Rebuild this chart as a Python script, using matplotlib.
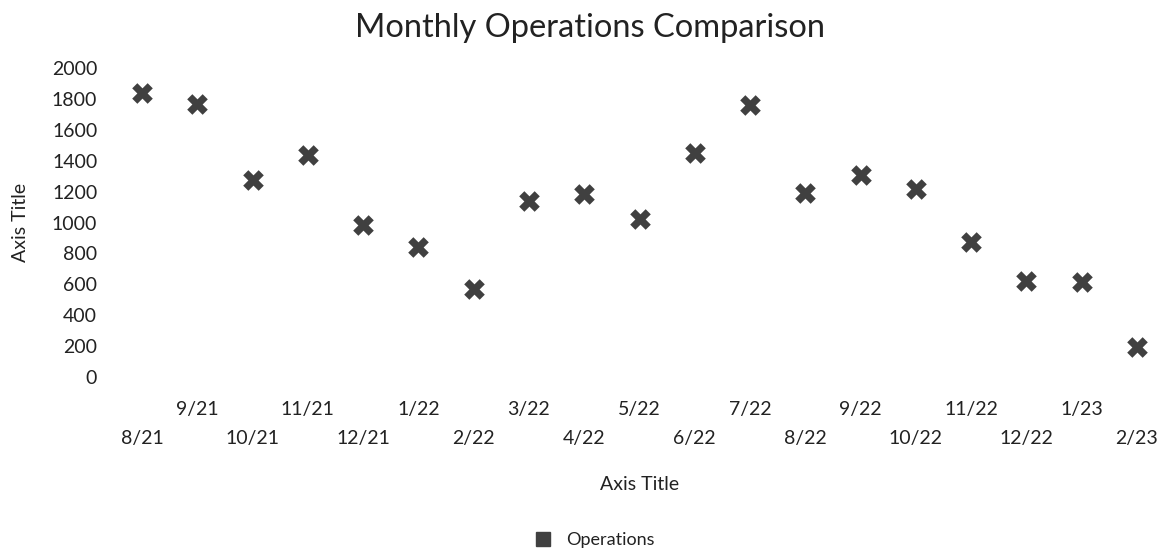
import matplotlib
matplotlib.use("Agg")
import matplotlib.pyplot as plt
from matplotlib.lines import Line2D

plt.rcParams['font.family'] = ['Lato', 'DejaVu Sans']

# data
months = ["8/21", "9/21", "10/21", "11/21", "12/21", "1/22", "2/22", "3/22", "4/22", "5/22",
          "6/22", "7/22", "8/22", "9/22", "10/22", "11/22", "12/22", "1/23", "2/23"]
operations = [1838, 1767, 1275, 1437, 984, 841, 570, 1139, 1184, 1023,
              1450, 1760, 1191, 1307, 1217, 874, 621, 615, 194]

W, H = 1170, 554
fig = plt.figure(figsize=(W / 100, H / 100), dpi=100)

# axes placed in pixels: x from 100 to 1160, y=0 at 377, y=2000 at 68
ax = fig.add_axes([100 / W, (H - 377) / H, 1060 / W, (377 - 68) / H])
step = (1137 - 142) / 18
x = list(range(len(months)))
ax.scatter(x, operations, marker="X", s=220, color="#404040", linewidths=0, clip_on=False, zorder=3)

ax.set_xlim(-(142 - 100) / step, 18 + (1160 - 1137) / step)
ax.set_ylim(0, 2000)
ax.set_yticks(range(0, 2001, 200))
ax.tick_params(axis="y", length=0, pad=2, labelsize=14, labelcolor="#222222")

# staggered month labels: even ones lower (major), odd ones higher (minor)
ax.set_xticks(x[0::2])
ax.set_xticklabels(months[0::2])
ax.set_xticks(x[1::2], minor=True)
ax.set_xticklabels(months[1::2], minor=True)
ax.tick_params(axis="x", which="major", length=0, pad=38, labelsize=14, labelcolor="#222222")
ax.tick_params(axis="x", which="minor", length=0, pad=17, labelsize=14, labelcolor="#222222")

for s in ax.spines.values():
    s.set_visible(False)

fig.text(590 / W, 1 - 28 / H, "Monthly Operations Comparison", ha="center", va="center",
         fontsize=23.5, color="#222222")
fig.text(640 / W, 1 - 485 / H, "Axis Title", ha="center", va="center", fontsize=14, color="#222222")
fig.text(20 / W, 1 - 222 / H, "Axis Title", ha="center", va="center", rotation=90,
         fontsize=14, color="#222222")

handle = Line2D([], [], marker="s", linestyle="none", color="#404040", markersize=10)
fig.legend([handle], ["Operations"], loc="center", bbox_to_anchor=(590 / W, 1 - 540 / H),
           frameon=False, fontsize=13, handletextpad=0.3, labelcolor="#222222")

fig.savefig("out.png", dpi=100)
